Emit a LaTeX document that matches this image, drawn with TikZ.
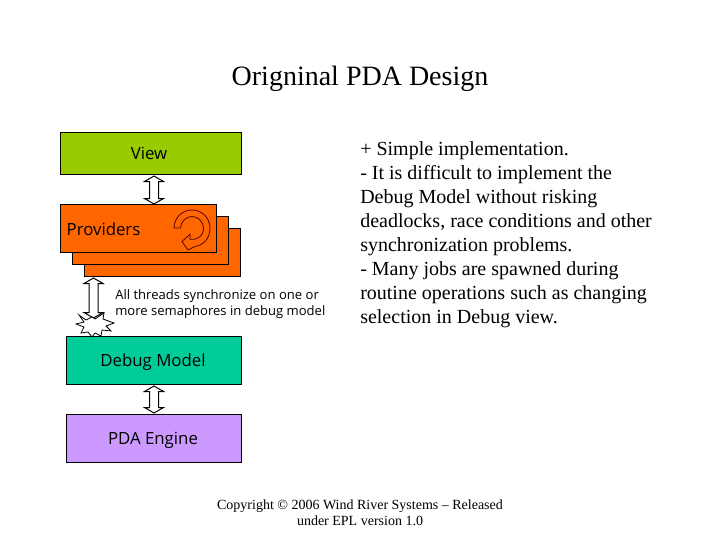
\documentclass[tikz,border=0pt]{standalone}
\usepackage{fontspec}
\setmainfont{Liberation Serif}
\newfontfamily\labelfont{Open Sans}
\usetikzlibrary{calc}
\definecolor{viewc}{HTML}{99CC00}
\definecolor{provc}{HTML}{FF6600}
\definecolor{modelc}{HTML}{00CC99}
\definecolor{enginec}{HTML}{CC99FF}
\tikzset{
  x=0.75pt,y=-0.75pt,
  box/.style={draw=black,line width=0.75pt,inner sep=0pt,anchor=north west},
  lab/.style={font=\labelfont\fontsize{12.6pt}{15pt}\selectfont,text=black,inner sep=0pt},
  bigarrow/.style={draw=black,fill=white,line width=0.75pt,line join=miter},
}
\newcommand{\dblarrow}[2]{%
  \draw[bigarrow] (#1) -- ($(#1)+(9.5,5.5)$) -- ($(#1)+(4.5,5.5)$) -- ($(#2)+(4.5,-5.5)$) -- ($(#2)+(9.5,-5.5)$)
    -- (#2) -- ($(#2)+(-9.5,-5.5)$) -- ($(#2)+(-4.5,-5.5)$) -- ($(#1)+(-4.5,5.5)$) -- ($(#1)+(-9.5,5.5)$) -- cycle;}
\begin{document}
\begin{tikzpicture}
\useasboundingbox (0,0) rectangle (720,540);
\fill[white] (0,0) rectangle (720,540);
\node[font=\fontsize{21pt}{25pt}\selectfont,inner sep=0pt] (title) at (360,79) {Origninal PDA Design};
% boxes
\node[box,fill=viewc,minimum width=135.75pt,minimum height=31.5pt] (view) at (60,132) {};
\node[lab] (viewl) at (149,153.5) {View};
\node[box,fill=provc,minimum width=117pt,minimum height=36pt] (p3) at (84,228) {};
\node[box,fill=provc,minimum width=117pt,minimum height=36pt] (p2) at (72,216) {};
\node[box,fill=provc,minimum width=117pt,minimum height=36pt] (p1) at (60,204) {};
\node[lab] (provl) at (103.5,229) {Providers};
\node[box,fill=modelc,minimum width=131.25pt,minimum height=36pt] (model) at (66,336) {};
\node[lab] (modell) at (153,362) {Debug Model};
\node[box,fill=enginec,minimum width=131.25pt,minimum height=36pt] (engine) at (66,414) {};
\node[lab] (enginel) at (153,440) {PDA Engine};
% cycle icon
\draw[draw=black!65!red,line width=0.6pt,fill=provc]
  (174,228) .. controls (174,218) and (182,210) .. (192,210)
  .. controls (202,210) and (210,218) .. (210,228)
  .. controls (210,238) and (204,245) .. (195,246.5)
  -- (188,250) -- (182,241.5) -- (190,234.3) -- (190,239.3)
  .. controls (198,240) and (203.5,236) .. (203.5,228)
  .. controls (203.5,222) and (198,216.5) .. (192,216.5)
  .. controls (186,216.5) and (180.5,222) .. (180.5,228) -- cycle;
% arrows
\coordinate (a1t) at ($(view.south)+(3,1)$);
\coordinate (a1b) at ($(view.south)+(3,29)$);
\dblarrow{a1t}{a1b}
\coordinate (a2t) at ($(p3.south west)+(9.5,1)$);
\coordinate (a2b) at ($(p3.south west)+(9.5,41)$);
\dblarrow{a2t}{a2b}
\coordinate (a3t) at ($(model.south)+(0,1)$);
\coordinate (a3b) at ($(engine.north)+(0,-1)$);
\dblarrow{a3t}{a3b}
% burst
\coordinate (burst) at (92,325);
\draw[bigarrow,line width=0.6pt] (burst)
  ++(-13,-10) -- ++(7,5) -- ++(6,-3) -- ++(3,2) -- ++(9,-6) -- ++(-1,6) -- ++(11,4)
  -- ++(-8,3) -- ++(5,5) -- ++(-9,-1) -- ++(-1,6) -- ++(-6,-3) -- ++(-3,4) -- ++(-4,-5)
  -- ++(-7,1) -- ++(3,-6) -- ++(-8,-3) -- ++(8,-2) -- cycle;
% texts
\node[font=\labelfont\fontsize{9.8pt}{12pt}\selectfont,align=left,anchor=west,inner sep=0pt,text=black] (note) at (115,304) {All threads synchronize on one or\\more semaphores in debug model};
\node[font=\fontsize{15pt}{18pt}\selectfont,align=left,anchor=north west,inner sep=0pt] (body) at (360,141.5) {+ Simple implementation.\\- It is difficult to implement the\\Debug Model without risking\\deadlocks, race conditions and other\\synchronization problems.\\- Many jobs are spawned during\\routine operations such as changing\\selection in Debug view.};
\node[font=\fontsize{10.5pt}{12.2pt}\selectfont,align=center,inner sep=0pt] (copy) at (360,512.5) {Copyright © 2006 Wind River Systems – Released\\under EPL version 1.0};
\end{tikzpicture}
\end{document}
